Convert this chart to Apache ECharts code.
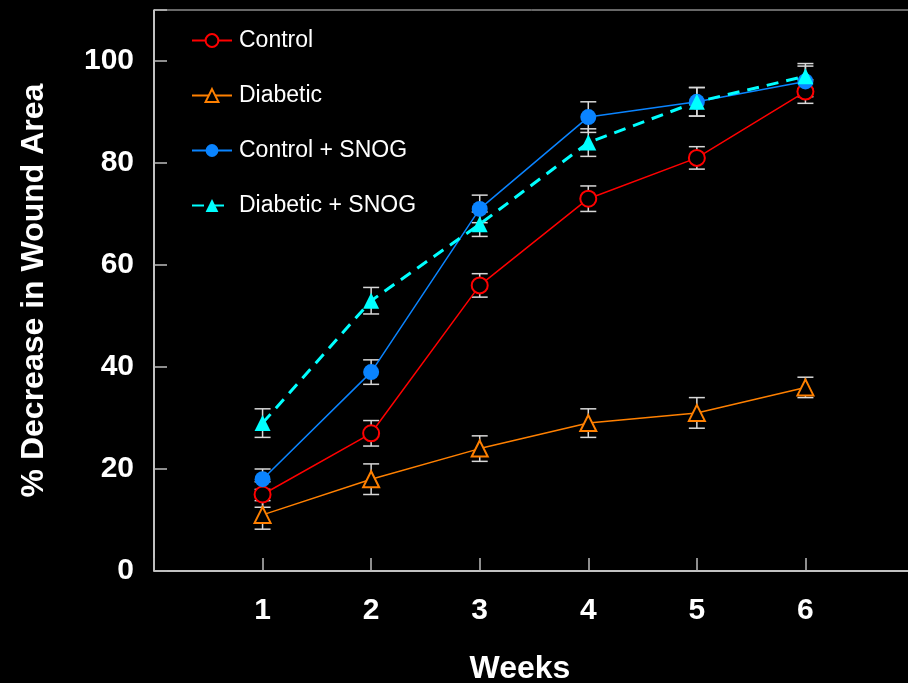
<!DOCTYPE html>
<html>
<head>
<meta charset="utf-8">
<script src="https://cdn.jsdelivr.net/npm/echarts@6/dist/echarts.min.js"></script>
<style>
  html, body { margin: 0; padding: 0; background: #000; }
  #chart { width: 908px; height: 683px; }
</style>
</head>
<body>
<div id="chart"></div>
<script>
const weeks = [1, 2, 3, 4, 5, 6]
const yTicks = [0, 20, 40, 60, 80, 100]

const control = [15, 27, 56, 73, 81, 94]
const controlErr = [2.5, 2.5, 2.3, 2.5, 2.2, 2.3]
const diabetic = [11, 18, 24, 29, 31, 36]
const diabeticErr = [2.8, 3, 2.5, 2.8, 3, 2]
const controlSnog = [18, 39, 71, 89, 92, 96]
const controlSnogErr = [2, 2.4, 2.7, 3, 2.8, 3]
const diabeticSnog = [29, 53, 68, 84, 92, 97]
const diabeticSnogErr = [2.8, 2.6, 2.4, 2.7, 2.8, 2.5]

const groups = [
  { name: 'Control', data: control, err: controlErr, color: '#ff0000', symbol: 'circle', open: true, dashed: false },
  { name: 'Diabetic', data: diabetic, err: diabeticErr, color: '#ff8000', symbol: 'triangle', open: true, dashed: false },
  { name: 'Control + SNOG', data: controlSnog, err: controlSnogErr, color: '#0a84ff', symbol: 'circle', open: false, dashed: false },
  { name: 'Diabetic + SNOG', data: diabeticSnog, err: diabeticSnogErr, color: '#00ffff', symbol: 'triangle', open: false, dashed: true },
]

function errorSeries(g) {
  return {
    type: 'custom',
    name: g.name + ' err',
    z: 1,
    silent: true,
    data: weeks.map((w, i) => [w, g.data[i] - g.err[i], g.data[i] + g.err[i]]),
    renderItem(params, api) {
      const lo = api.coord([api.value(0), api.value(1)])
      const hi = api.coord([api.value(0), api.value(2)])
      const half = 8
      const style = { stroke: '#d8d8d8', lineWidth: 1.5 }
      return {
        type: 'group',
        children: [
          { type: 'line', shape: { x1: lo[0], y1: lo[1], x2: hi[0], y2: hi[1] }, style },
          { type: 'line', shape: { x1: lo[0] - half, y1: lo[1], x2: lo[0] + half, y2: lo[1] }, style },
          { type: 'line', shape: { x1: hi[0] - half, y1: hi[1], x2: hi[0] + half, y2: hi[1] }, style },
        ],
      }
    },
  }
}

function lineSeries(g) {
  return {
    type: 'line',
    name: g.name,
    z: 3,
    data: weeks.map((w, i) => [w, g.data[i]]),
    symbol: g.symbol,
    symbolSize: 16,
    color: g.color,
    lineStyle: {
      color: g.color,
      width: g.dashed ? 3 : 1.5,
      type: g.dashed ? [12, 8] : 'solid',
    },
    itemStyle: g.open
      ? { color: '#000', borderColor: g.color, borderWidth: 2 }
      : { color: g.color, borderWidth: 0 },
    emphasis: { disabled: true },
  }
}

const chart = echarts.init(document.getElementById('chart'))
chart.setOption({
  backgroundColor: '#000',
  animation: false,
  grid: {
    left: 154,
    right: -6,
    top: 10,
    bottom: 112,
    outerBoundsMode: 'none',
    containLabel: false,
    show: true,
    borderColor: '#cfcfcf',
    borderWidth: 1,
  },
  legend: {
    orient: 'vertical',
    left: 186,
    top: 24,
    itemWidth: 40,
    itemHeight: 16,
    itemGap: 32,
    data: groups.map((g) => g.name),
    textStyle: {
      color: '#fff',
      fontSize: 23,
      fontFamily: 'Liberation Sans, Arial, sans-serif',
      padding: [0, 0, 0, 2],
    },
  },
  xAxis: {
    type: 'value',
    min: 0,
    max: 7,
    interval: 1,
    name: 'Weeks',
    nameLocation: 'middle',
    nameGap: 82,
    nameTextStyle: {
      color: '#fff',
      fontSize: 32,
      fontWeight: 'bold',
      fontFamily: 'Liberation Sans, Arial, sans-serif',
      padding: [0, 28, 0, 0],
    },
    splitLine: { show: false },
    axisLine: { lineStyle: { color: '#e0e0e0', width: 1.5 } },
    axisTick: { inside: true, length: 13, lineStyle: { color: '#bdbdbd', width: 1.5 } },
    axisLabel: {
      color: '#fff',
      fontSize: 30,
      fontWeight: 'bold',
      fontFamily: 'Liberation Sans, Arial, sans-serif',
      margin: 25,
      formatter: (v) => (weeks.includes(v) ? String(v) : ''),
    },
  },
  yAxis: {
    type: 'value',
    min: 0,
    max: 110,
    interval: 20,
    name: '% Decrease in Wound Area',
    nameLocation: 'middle',
    nameGap: 104,
    nameTextStyle: {
      color: '#fff',
      fontSize: 32,
      fontWeight: 'bold',
      fontFamily: 'Liberation Sans, Arial, sans-serif',
    },
    splitLine: { show: false },
    axisLine: { lineStyle: { color: '#e0e0e0', width: 1.5 } },
    axisTick: { inside: true, length: 13, lineStyle: { color: '#bdbdbd', width: 1.5 } },
    axisLabel: {
      color: '#fff',
      fontSize: 30,
      fontWeight: 'bold',
      fontFamily: 'Liberation Sans, Arial, sans-serif',
      margin: 20,
      formatter: (v) => (yTicks.includes(v) ? String(v) : ''),
    },
  },
  series: [...groups.map(errorSeries), ...groups.map(lineSeries)],
})
window.addEventListener('resize', () => chart.resize())
</script>
</body>
</html>
